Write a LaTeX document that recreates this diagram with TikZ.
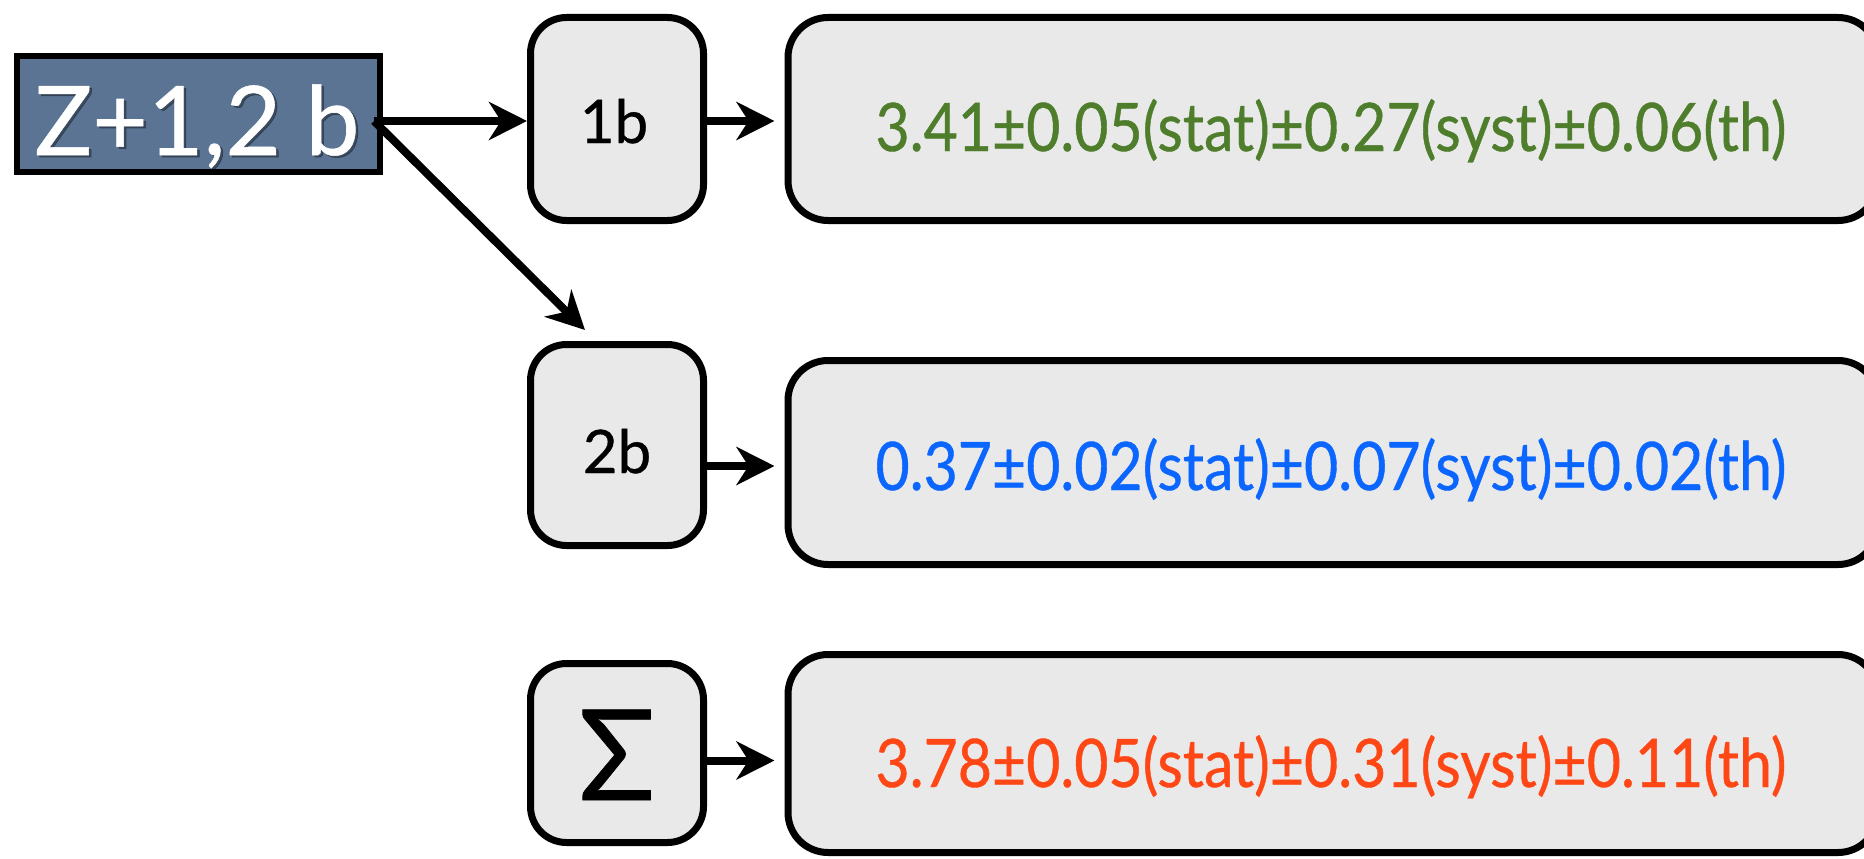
\documentclass[tikz,border=0pt]{standalone}
\usepackage{fontspec}
\usetikzlibrary{arrows.meta}
\newfontfamily\lato[FakeBold=0.6]{Lato}
\newfontfamily\latonarrow[FakeStretch=0.88, FakeBold=0.6]{Lato}
\definecolor{boxgray}{HTML}{E9E9E9}
\definecolor{slate}{HTML}{5B7493}
\definecolor{resgreen}{HTML}{4E7D2B}
\definecolor{resblue}{HTML}{0B66FF}
\definecolor{resred}{HTML}{FF4716}
\tikzset{
  srcbox/.style={rectangle, draw=black, line width=6pt, fill=slate,
    minimum width=363pt, minimum height=116pt, inner sep=0pt},
  srctext/.style={text=white, inner sep=0pt, anchor=base,
    font=\lato\fontsize{96}{96}\selectfont},
  stepbox/.style={rectangle, rounded corners=36pt, draw=black, line width=7pt,
    fill=boxgray, minimum width=173pt, inner sep=0pt},
  steptext/.style={inner sep=0pt, anchor=base, text=black,
    font=\lato\fontsize{60}{60}\selectfont},
  resbox/.style={rectangle, rounded corners=40pt, draw=black, line width=7pt,
    fill=boxgray, minimum width=1090pt, inner sep=0pt},
  restext/.style={inner sep=0pt, anchor=base,
    font=\latonarrow\fontsize{67}{67}\selectfont},
  arr/.style={draw=black, line width=8pt,
    -{Stealth[length=38pt, width=38pt, inset=12pt]}}
}
\begin{document}
\begin{tikzpicture}[x=1pt, y=-1pt]
\useasboundingbox[fill=white] (0,0) rectangle (1864,859);

% source sample
\node[srcbox] (z) at (198.5,114) {};
\node[srctext, text=black, opacity=0.35] (zshadow) at (199.5,157) {Z+1,2 b};
\node[srctext] (ztext) at (197,155) {Z+1,2 b};
\coordinate (zout) at (374,121);

% b-tag multiplicity bins
\node[stepbox, minimum height=203pt] (s1) at (617,119) {};
\node[steptext] (s1t) at (614,143) {1b};
\node[stepbox, minimum height=201pt] (s2) at (617,445) {};
\node[steptext] (s2t) at (617,473) {2b};
\node[stepbox, minimum height=179pt] (s3) at (617,753) {};
\node[steptext, font=\lato\fontsize{126}{126}\selectfont] (s3t) at (617,800) {Σ};

% measured values
\node[resbox, minimum height=203pt] (r1) at (1333,119) {};
\node[restext, text=resgreen] (r1t) at (1331,151) {3.41±0.05(stat)±0.27(syst)±0.06(th)};
\node[resbox, minimum height=204pt] (r2) at (1333,462.5) {};
\node[restext, text=resblue] (r2t) at (1331,490) {0.37±0.02(stat)±0.07(syst)±0.02(th)};
\node[resbox, minimum height=198pt] (r3) at (1333,753.5) {};
\node[restext, text=resred] (r3t) at (1331,787) {3.78±0.05(stat)±0.31(syst)±0.11(th)};

% connectors
\draw[arr] (zout) -- (zout -| s1.west);
\draw[arr] (zout) -- ([xshift=-32pt, yshift=11pt]s2.north);
\draw[arr, shorten >=10pt] ([xshift=-2pt]s1.east |- zout) -- (r1.west |- zout);
\draw[arr, shorten >=10pt] ([yshift=-3.5pt, xshift=-2pt]r2.west -| s2.east) -- ([yshift=-3.5pt]r2.west);
\draw[arr, shorten >=10pt] ([yshift=-7pt, xshift=-2pt]r3.west -| s3.east) -- ([yshift=-7pt]r3.west);
\end{tikzpicture}
\end{document}
